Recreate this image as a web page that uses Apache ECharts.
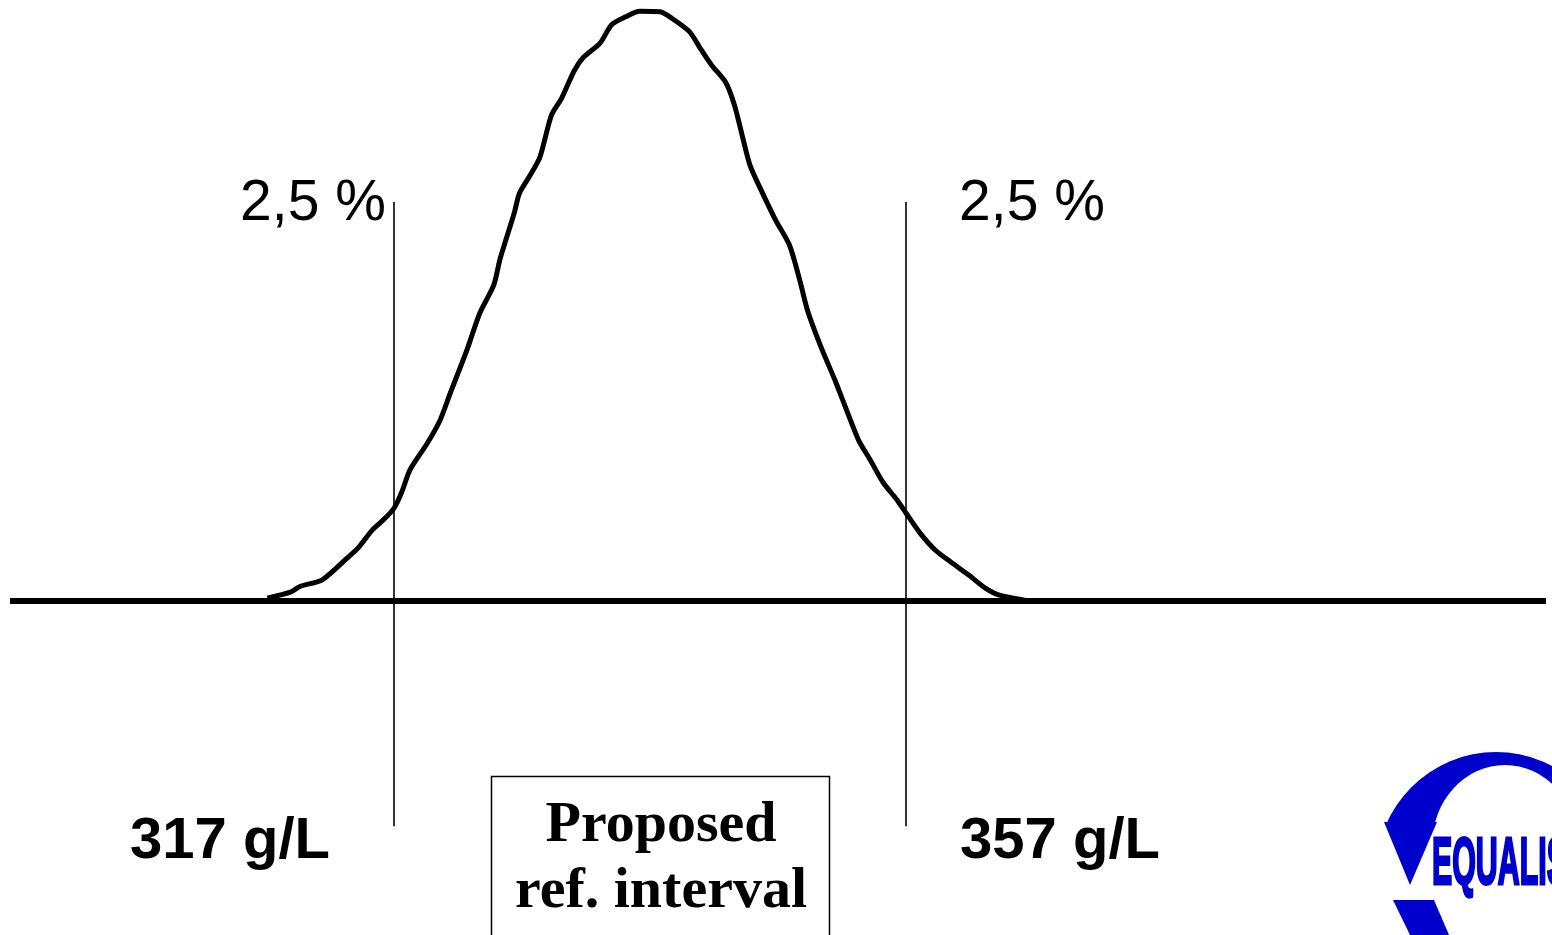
<!DOCTYPE html>
<html>
<head>
<meta charset="utf-8">
<script src="https://cdn.jsdelivr.net/npm/echarts@6/dist/echarts.min.js"></script>
<style>html,body{margin:0;padding:0;background:#fff}#c{width:1552px;height:935px}</style>
</head>
<body>
<div id="c"></div>
<script>
// Distribution curve (g/L vs relative density)
const curveX = [307.1,308.9,309.7,311.4,313.4,314.2,315.3,316.3,317.0,317.6,318.25,319.6,320.6,321.4,322.7,323.7,324.8,325.3,326.4,326.8,327.6,328.4,329.3,330.1,331.1,331.8,333.1,334.0,335.05,336.2,337.8,338.7,340.1,340.9,341.8,342.9,343.6,344.2,344.8,345.6,346.8,347.9,348.7,349.3,350.3,351.5,352.5,353.3,354.2,355.2,356.3,357.0,358.1,359.3,360.5,361.9,363.2,364.3,366.7];
const curveY = [0.5,1.5,2.5,3.6,7.4,9.0,12.0,14.0,15.7,18.4,22.2,26.7,30.6,35.2,42.5,48.7,53.5,58.0,65.7,69.0,71.9,75.1,82.2,85.1,89.8,92.0,94.4,97.5,98.8,99.8,99.7,98.6,96.3,93.6,90.7,87.8,83.9,78.8,73.8,69.9,64.5,60.2,54.3,49.2,43.3,37.1,31.5,27.2,23.9,20.1,17.1,14.9,11.5,8.6,6.6,4.4,2.2,1.0,0];
const limits = [317, 357];
const limitLabels = ['317 g/L', '357 g/L'];
const tailLabels = ['2,5 %', '2,5 %'];
const lineSpan = [-38.1, 67.5];
const boxLines = ['Proposed', 'ref. interval'];
const logoText = 'EQUALIS';

const chart = echarts.init(document.getElementById('c'), null, {renderer: 'canvas'});
const curveData = curveX.map((x, i) => [x, curveY[i]]);
const limitSeries = limits.map(v => ({
  type: 'line', data: [[v, lineSpan[0]], [v, lineSpan[1]]], symbol: 'none',
  lineStyle: {color: '#000', width: 1.6}, silent: true, animation: false, z: 1
}));

function pxText(text, x, y, font, fill, extra) {
  return Object.assign({type: 'text', x: x, y: y, silent: true,
    style: {text: text, font: font, fill: fill || '#000', textAlign: 'center', textVerticalAlign: 'middle', verticalAlign: 'middle'}}, extra || {});
}

const blue = '#0000CC';
chart.setOption({
  animation: false,
  backgroundColor: '#fff',
  grid: {left: 10, right: 6, top: 10, bottom: 0, containLabel: false},
  xAxis: {type: 'value', min: 287, max: 407, axisLine: {show: true, onZero: true, lineStyle: {color: '#000', width: 6, cap: 'butt'}},
    axisTick: {show: false}, axisLabel: {show: false}, splitLine: {show: false}},
  yAxis: {type: 'value', min: -56.5, max: 100, show: false, splitLine: {show: false}},
  series: [
    {type: 'line', data: curveData, symbol: 'none', smooth: 0.25, lineStyle: {color: '#000', width: 5}, z: 3, silent: true}
  ].concat(limitSeries),
  graphic: [
    pxText(tailLabels[0], 313, 204, '57px "Liberation Sans", Arial, sans-serif'),
    pxText(tailLabels[1], 1032, 204, '57px "Liberation Sans", Arial, sans-serif'),
    pxText(limitLabels[0], 230, 842, 'bold 58px "Liberation Sans", Arial, sans-serif'),
    pxText(limitLabels[1], 1060, 842, 'bold 58px "Liberation Sans", Arial, sans-serif'),
    {type: 'rect', shape: {x: 491.5, y: 776.5, width: 338, height: 220}, style: {fill: 'none', stroke: '#000', lineWidth: 1.5}, silent: true},
    pxText(boxLines[0], 661, 826, 'bold 58px "Liberation Serif", "Times New Roman", serif'),
    pxText(boxLines[1], 661, 892, 'bold 58px "Liberation Serif", "Times New Roman", serif'),
    // logo
    {type: 'circle', x: 1496, y: 873, scaleX: 120 / 121, scaleY: 1, shape: {cx: 0, cy: 0, r: 121}, style: {fill: blue}, silent: true},
    {type: 'circle', x: 1505, y: 845, scaleX: 73 / 80, scaleY: 1, shape: {cx: 0, cy: 0, r: 80}, style: {fill: '#fff'}, silent: true},
    {type: 'rect', shape: {x: 1360, y: 822, width: 110, height: 114}, style: {fill: '#fff'}, silent: true},
    {type: 'rect', shape: {x: 1440, y: 880, width: 112, height: 56}, style: {fill: '#fff'}, silent: true},
    {type: 'polygon', shape: {points: [[1384, 822], [1437, 822], [1410, 885]]}, style: {fill: blue}, silent: true},
    {type: 'polygon', shape: {points: [[1393, 900], [1434, 900], [1449, 935], [1410, 935]]}, style: {fill: blue}, silent: true},
    {type: 'text', x: 1432, y: 866, scaleX: 0.46, silent: true,
      style: {text: logoText, font: 'bold 66px "Liberation Sans", Arial, sans-serif', fill: blue, stroke: blue, lineWidth: 3, textAlign: 'left', textVerticalAlign: 'middle', verticalAlign: 'middle'}}
  ]
});
</script>
</body>
</html>
